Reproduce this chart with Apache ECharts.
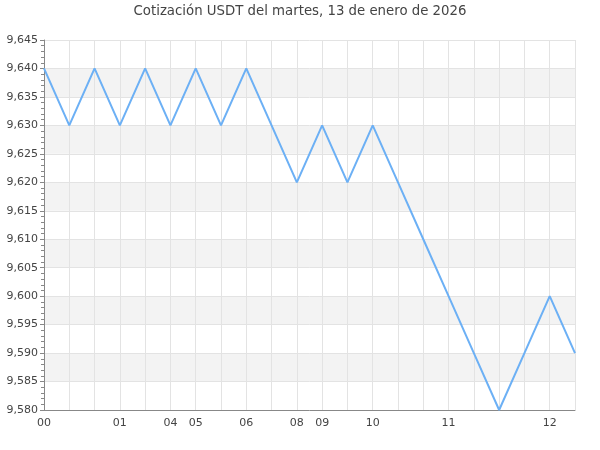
<!DOCTYPE html>
<html><head><meta charset="utf-8">
<script src="https://cdn.jsdelivr.net/npm/echarts@6/dist/echarts.min.js"></script>
<style>html,body{margin:0;padding:0;background:#fff}#c{width:600px;height:450px}</style>
</head><body><div id="c"></div>
<script>
const titleText = 'Cotización USDT del martes, 13 de enero de 2026';
const hourLabels = ['00','','','01','','04','05','','06','','08','09','','10','','','11','','','','12',''];
const prices = [9.640,9.630,9.640,9.630,9.640,9.630,9.640,9.630,9.640,9.630,9.620,9.630,9.620,9.630,9.620,9.610,9.600,9.590,9.580,9.590,9.600,9.590];
const yMin = 9.580, yMax = 9.645, yStep = 0.005;

const chart = echarts.init(document.getElementById('c'), null, {renderer:'canvas'});
chart.setOption({
  animation:false,
  textStyle:{fontFamily:'DejaVu Sans'},
  title:{text:titleText,left:'center',top:0,textStyle:{fontSize:13.3,fontWeight:'normal',color:'#444',fontFamily:'DejaVu Sans'}},
  grid:{left:44,right:25,top:40,bottom:40,containLabel:false},
  xAxis:{type:'category',boundaryGap:false,data:hourLabels,
    axisLine:{lineStyle:{color:'#888'}},axisTick:{show:false},
    axisLabel:{interval:0,color:'#444',fontSize:11,margin:8},
    splitLine:{show:true,interval:0,lineStyle:{color:'#e3e3e3'}}},
  yAxis:{type:'value',min:yMin,max:yMax,interval:yStep,
    axisLine:{show:true,lineStyle:{color:'#888'}},
    axisTick:{show:true,length:4,lineStyle:{color:'#888'}},
    minorTick:{show:true,splitNumber:5,length:3,lineStyle:{color:'#888'}},
    axisLabel:{color:'#444',fontSize:11,margin:6,formatter:v=>v.toFixed(3).replace('.',',')},
    splitLine:{show:true,lineStyle:{color:'#e3e3e3'}},
    splitArea:{show:true,areaStyle:{color:['#ffffff','#f3f3f3']}}},
  series:[{type:'line',data:prices,showSymbol:false,symbol:'none',lineStyle:{color:'#6cb0f5',width:2}}]
});
</script></body></html>
